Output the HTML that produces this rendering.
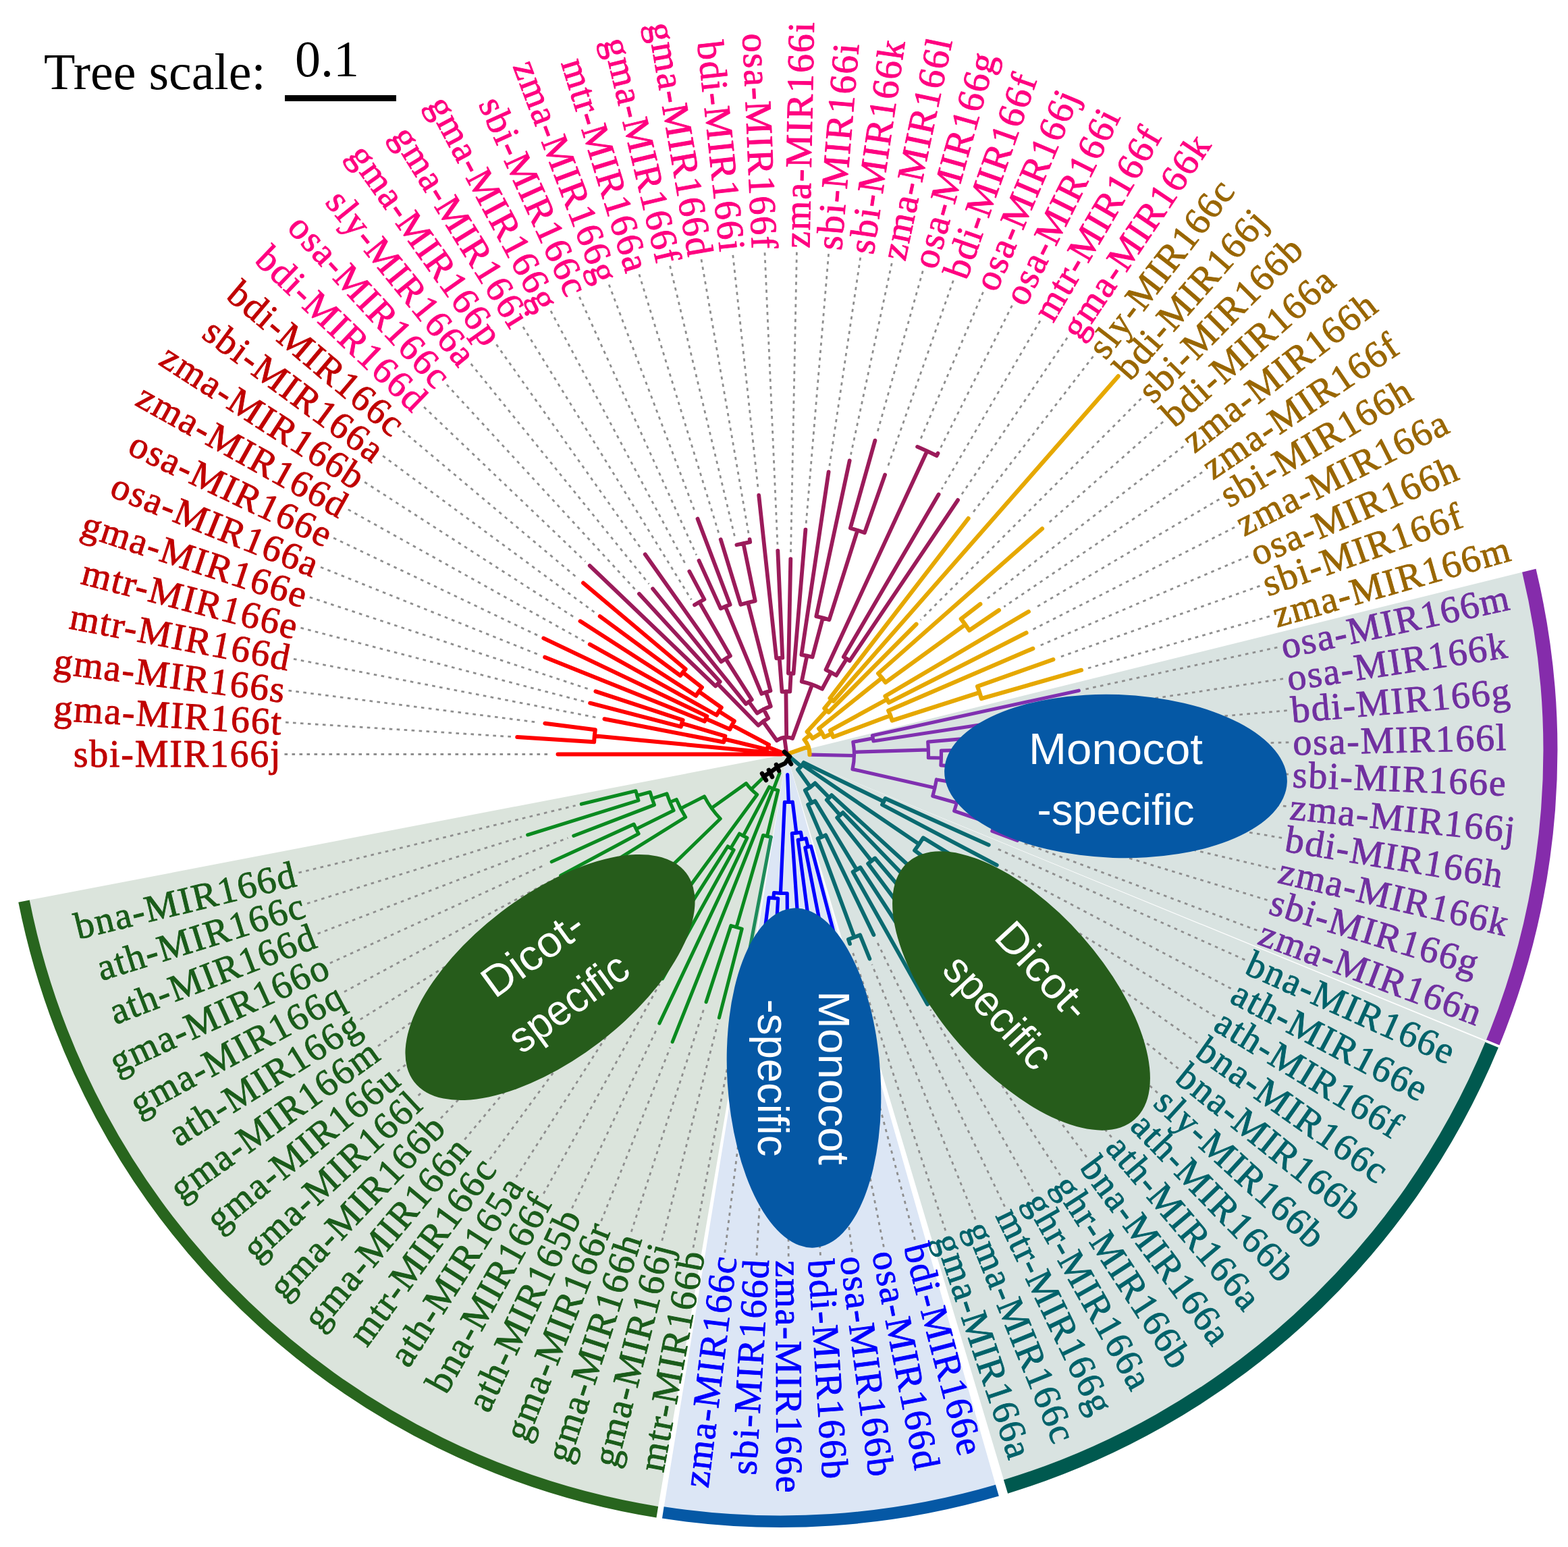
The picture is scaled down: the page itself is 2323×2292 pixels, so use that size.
<!DOCTYPE html>
<html lang="en"><head><meta charset="utf-8"><title>MIR166 phylogenetic tree</title>
<style>html,body{margin:0;padding:0;background:#fff}svg{display:block}.lb{font-family:"Liberation Serif", serif;font-size:56px;letter-spacing:1.75px}.el{font-family:"Liberation Sans",sans-serif;font-size:64px;fill:#fff;text-anchor:middle}.sc{font-family:"Liberation Serif",serif;font-size:76px;fill:#000}</style></head><body>
<svg xmlns="http://www.w3.org/2000/svg" width="2323" height="2292" viewBox="0 0 2323 2292">
<rect width="2323" height="2292" fill="#fff"/>
<g id="sectors">
<path d="M1165.5 1117.5L2256.1 847.6A1131 1131 0 0 1 2202.6 1541.8Z" fill="#d9e3e1"/>
<path d="M1165.5 1117.5L2201.8 1543.6A1131 1131 0 0 1 1487.3 2193.5Z" fill="#d9e3e1"/>
<path d="M1165.5 1117.5L975.1 2232.4A1135 1135 0 0 1 43.2 1333.6Z" fill="#dbe4dc"/>
<path d="M1165.5 1117.5L1475.4 2201.2A1135 1135 0 0 1 983.5 2233.8Z" fill="#dce6f5"/>
</g>
<g id="rings">
<path d="M2265.3 845.3A1140.5 1140.5 0 0 1 2211.7 1544.5" fill="none" stroke="#852cab" stroke-width="21"/>
<path d="M2210.2 1548.1A1140.5 1140.5 0 0 1 1490 2202.6" fill="none" stroke="#00594f" stroke-width="21"/>
<path d="M1477.4 2208.2A1142.2 1142.2 0 0 1 982.3 2240.9" fill="none" stroke="#0558a5" stroke-width="17.5"/>
<path d="M973.8 2240.2A1142.9 1142.9 0 0 1 35.5 1335.1" fill="none" stroke="#28651e" stroke-width="16.8"/>
</g>
<g id="leaders" fill="none" stroke="#8e8e8e" stroke-width="2.8" stroke-dasharray="4.6 6.4">
<path d="M421.5 1117.5L817.5 1117.5"/><path d="M423 1070.2L757.3 1091.5"/><path d="M427.5 1023.1L798.5 1070.5"/><path d="M435 976.3L886.7 1063.6"/><path d="M445.5 930.2L865.5 1039.4"/><path d="M458.8 884.8L873.9 1021.5"/><path d="M475.1 840.3L798.9 970.3"/><path d="M494.1 797L797.3 941.7"/><path d="M515.8 754.9L866 950.3"/><path d="M540.2 714.3L852 915.4"/><path d="M567.1 675.4L881.6 907.7"/><path d="M596.4 638.2L857.3 857.9"/><path d="M628.1 603L867.2 831.9"/><path d="M661.9 569.9L940.8 873.1"/><path d="M697.7 539L961.5 865.2"/><path d="M735.4 510.4L950.5 813.9"/><path d="M774.9 484.3L1024.3 888.5"/><path d="M816 460.7L1017 838.5"/><path d="M858.4 439.8L1031.8 822.4"/><path d="M902.2 421.7L1030.3 760.2"/><path d="M946.9 406.3L1065 790.6"/><path d="M992.6 393.9L1089.3 798.5"/><path d="M1039 384.3L1109 790.3"/><path d="M1085.8 377.8L1123.2 724.8"/><path d="M1133 374.2L1151.9 806.8"/><path d="M1180.4 373.6L1171.5 819.1"/><path d="M1227.6 376.1L1194.2 775.7"/><path d="M1274.7 381.6L1228.9 690.2"/><path d="M1321.2 390L1260.5 673.6"/><path d="M1367.2 401.4L1298.9 643.9"/><path d="M1412.3 415.6L1314.1 694.9"/><path d="M1456.5 432.8L1362.6 653.6"/><path d="M1499.4 452.6L1393.5 663.5"/><path d="M1541 475.2L1395.1 724.7"/><path d="M1581.1 500.4L1424.1 733.5"/><path d="M1619.5 528.1L1440.1 761"/><path d="M1690.6 590.5L1363.8 918.4"/><path d="M1723.1 624.9L1550.7 777.2"/><path d="M1753.3 661.4L1459.4 889.4"/><path d="M1781.1 699.7L1487.4 899"/><path d="M1806.4 739.7L1531.6 901.7"/><path d="M1829.1 781.2L1528.5 933.5"/><path d="M1849.2 824.1L1538.6 957.4"/><path d="M1866.5 868.1L1568.7 974"/><path d="M1880.9 913.2L1610.7 990.4"/><path d="M1892.4 959.1L1607.1 1021.3"/><path d="M1901 1005.7L1550.1 1059"/><path d="M1906.7 1052.7L1572.9 1081.9"/><path d="M1909.3 1099.9L1574.4 1107.8"/><path d="M1908.9 1147.2L1574.2 1133.9"/><path d="M1905.5 1194.5L1572.3 1159.8"/><path d="M1899.1 1241.4L1568.8 1185.6"/><path d="M1889.8 1287.8L1563.6 1211.1"/><path d="M1877.5 1333.5L1537.7 1230.4"/><path d="M1862.3 1378.3L1515.8 1248.6"/><path d="M1844.3 1422.1L1473 1255.5"/><path d="M1823.6 1464.6L1484.8 1285.9"/><path d="M1800.1 1505.8L1463.2 1299.6"/><path d="M1774.2 1545.3L1451 1318.2"/><path d="M1745.7 1583.2L1437.7 1335.9"/><path d="M1714.9 1619.1L1423.2 1352.8"/><path d="M1681.9 1653.1L1407.8 1368.7"/><path d="M1646.8 1684.8L1391.3 1383.6"/><path d="M1609.8 1714.3L1373.9 1397.4"/><path d="M1570.9 1741.3L1388.4 1460.4"/><path d="M1530.4 1765.8L1378.4 1495.7"/><path d="M1488.5 1787.7L1298.3 1393.2"/><path d="M1445.2 1806.9L1291.8 1428.9"/><path d="M1400.8 1823.3L1262 1406.8"/><path d="M1355.4 1836.8L1244.4 1416.3"/><path d="M1309.3 1847.5L1225.2 1420.7"/><path d="M1262.6 1855.1L1205.8 1423.9"/><path d="M1215.5 1859.8L1186.3 1425.8"/><path d="M1168.2 1861.5L1166.6 1426.5"/><path d="M1120.9 1860.2L1147 1425.9"/><path d="M1073.8 1855.8L1127.4 1424.1"/><path d="M1027 1848.5L1108 1421.1"/><path d="M980.8 1838.2L1063.2 1516.6"/><path d="M935.3 1825L1043.3 1493.1"/><path d="M890.8 1808.9L992.9 1552"/><path d="M847.4 1790.1L973.1 1524.3"/><path d="M805.3 1768.5L977.2 1457.9"/><path d="M764.6 1744.3L955.9 1445.2"/><path d="M725.6 1717.5L935.5 1431.2"/><path d="M688.3 1688.3L916 1415.9"/><path d="M653 1656.8L897.5 1399.5"/><path d="M619.7 1623.1L880.1 1381.9"/><path d="M588.7 1587.4L863.9 1363.2"/><path d="M560 1549.8L848.9 1343.5"/><path d="M533.7 1510.4L763 1367.8"/><path d="M510 1469.4L822.8 1301.5"/><path d="M488.9 1427L809 1280.6"/><path d="M470.6 1383.4L841.4 1241.5"/><path d="M455.1 1338.6L773.1 1239.7"/><path d="M442.5 1293L852.6 1193.5"/>
</g>
<g id="tree" fill="none" stroke-linecap="round" stroke-linejoin="round">
<path stroke="#0a8a1f" stroke-width="5.1" d="M1154.9 1145.6L1146 1168.9M1152.7 1171A55 55 0 0 1 1139.6 1166M1152.7 1171L1136.4 1239.1M1142.2 1240.3A125 125 0 0 1 1130.6 1237.5M1130.6 1237.5L1091 1373.9M1099.2 1376.1A267 267 0 0 1 1082.9 1371.4M1099.2 1376.1L1065.4 1507.9M1082.9 1371.4L1046.1 1484.6M1145.2 1168.6L996.2 1543.6M1139.6 1166L1101.1 1238.4M1106.9 1241.3A137 137 0 0 1 1095.4 1235.2M1106.9 1241.3L976.9 1516.2M1095.4 1235.2L1082.6 1256.7M1087.1 1259.2A162 162 0 0 1 1078.2 1254M1087.1 1259.2L981.5 1450M1078.2 1254L960.7 1437.6M1130 1152.7L1112.9 1169.5M1121.7 1177.2A74 74 0 0 1 1105.4 1160.6M1121.7 1177.2L940.8 1423.9M1105.4 1160.6L1054.2 1197.3M1067.2 1213A137 137 0 0 1 1043.5 1179.9M1067.2 1213L986.2 1291.7M999.1 1304.1A250 250 0 0 1 974.2 1278.5M999.1 1304.1L965.9 1341.4M973.1 1347.7A300 300 0 0 1 958.8 1335M973.1 1347.7L921.8 1409M958.8 1335L903.7 1393M974.2 1278.5L951.3 1297.8M960.1 1307.8A280 280 0 0 1 942.9 1287.3M960.1 1307.8L886.7 1375.7M942.9 1287.3L927 1299.5M932.9 1307A300 300 0 0 1 921.3 1291.8M932.9 1307L870.9 1357.5M921.3 1291.8L856.2 1338.3M1043.5 1179.9L1008.4 1197.9M1015.6 1210.7A176.5 176.5 0 0 1 1002.2 1184.5M1015.6 1210.7L842.8 1318.2M1002.2 1184.5L992.5 1188.5M998 1200.7A187 187 0 0 1 987.9 1175.9M998 1200.7L942.5 1228.2M946.1 1235.3A249 249 0 0 1 939.1 1221.1M946.1 1235.3L830.7 1297.2M939.1 1221.1L817.2 1276.8M987.9 1175.9L966 1183.1M969.4 1192.5A210 210 0 0 1 963.1 1173.5M969.4 1192.5L849.8 1238.3M963.1 1173.5L943.8 1178.8M945.9 1185.9A230 230 0 0 1 942 1171.8M945.9 1185.9L781.7 1237M942 1171.8L861.3 1191.3"/>
<path stroke="#1e8c5a" stroke-width="5.0" d="M1142.2 1240.3L1109.6 1412.3"/>
<path stroke="#0000ff" stroke-width="5.2" d="M1166.7 1147.5L1168.3 1188.4M1174.2 1188A71 71 0 0 1 1162.4 1188.4M1174.2 1188L1179.9 1234.1M1186.4 1233.1A117.5 117.5 0 0 1 1173.4 1234.7M1186.4 1233.1L1188.2 1243.5M1194.2 1242.2A128 128 0 0 1 1182.2 1244.4M1194.2 1242.2L1197.1 1254.9M1201.5 1253.8A141 141 0 0 1 1192.8 1255.8M1201.5 1253.8L1242.1 1407.6M1192.8 1255.8L1223.5 1411.8M1182.2 1244.4L1204.7 1414.9M1173.4 1234.7L1185.7 1416.8M1162.4 1188.4L1156.4 1323.3M1166.2 1323.5A206 206 0 0 1 1146.6 1322.6M1166.2 1323.5L1166.6 1417.5M1146.6 1322.6L1145.9 1330.6M1152.7 1331.1A214 214 0 0 1 1139.1 1329.9M1152.7 1331.1L1147.5 1417M1139.1 1329.9L1128.5 1415.2"/>
<path stroke="#0a6a70" stroke-width="5.8" d="M1165.5 1117.5L1186.9 1135.5M1190.7 1129.8A28 28 0 0 1 1181.9 1140.2M1190.7 1129.8L1309.3 1187.6M1311.5 1183A160 160 0 0 1 1307 1192.2M1311.5 1183L1464.8 1251.8M1307 1192.2L1476.8 1281.7M1188.7 1133.2L1361.5 1250.7M1367.7 1241.2A237 237 0 0 1 1355 1259.9M1367.7 1241.2L1455.5 1294.9M1355 1259.9L1389.3 1285.7M1394.6 1278.5A280 280 0 0 1 1383.9 1292.8M1394.6 1278.5L1443.7 1313M1383.9 1292.8L1430.7 1330.3M1181.9 1140.2L1200.6 1166.2M1207.5 1160.4A60 60 0 0 1 1192.8 1170.9M1207.5 1160.4L1228.5 1181.8M1232 1178.2A90 90 0 0 1 1224.8 1185.2M1232 1178.2L1416.6 1346.7M1224.8 1185.2L1244.6 1207.8M1248.8 1203.9A120 120 0 0 1 1240.2 1211.4M1248.8 1203.9L1401.5 1362.2M1240.2 1211.4L1291.2 1275.6M1296.2 1271.5A202 202 0 0 1 1286.1 1279.5M1296.2 1271.5L1385.5 1376.8M1286.1 1279.5L1368.5 1390.2M1192.8 1170.9L1202.4 1189.6M1207.5 1186.8A81 81 0 0 1 1197.1 1192.1M1207.5 1186.8L1269.1 1288.6M1274.5 1285.2A200 200 0 0 1 1263.6 1291.8M1274.5 1285.2L1383.5 1452.9M1263.6 1291.8L1374 1487.9M1197.1 1192.1L1217.5 1239.9M1223.2 1237.3A133 133 0 0 1 1211.6 1242.3M1223.2 1237.3L1294.4 1385.1M1211.6 1242.3L1265.6 1388.6M1274.2 1385.3A289 289 0 0 1 1256.9 1391.7M1274.2 1385.3L1288.4 1420.5M1256.9 1391.7L1259.1 1398.3"/>
<path stroke="#8030b0" stroke-width="5.2" d="M1199.5 1118.2L1265.5 1119.5M1263.8 1099.3A100 100 0 0 1 1263 1139.6M1263.8 1099.3L1293.3 1093.9M1292.5 1089.8A130 130 0 0 1 1294 1098M1292.5 1089.8L1598.3 1023.2M1294 1098L1541.2 1060.4M1265.5 1114.3L1375.4 1110.9M1374.7 1099.2A210 210 0 0 1 1375.4 1122.6M1374.7 1099.2L1564 1082.6M1375.4 1122.6L1394.4 1123M1394.4 1112.1A229 229 0 0 1 1393.9 1133.9M1394.4 1112.1L1565.4 1108M1393.9 1133.9L1414.9 1135.4M1415.3 1127.5A250 250 0 0 1 1414.2 1143.4M1415.3 1127.5L1565.2 1133.5M1414.2 1143.4L1563.4 1158.9M1263 1139.6L1384.9 1167.2M1387.4 1155A225 225 0 0 1 1381.8 1179.4M1387.4 1155L1559.9 1184.1M1381.8 1179.4L1417.4 1189.6M1420.5 1177.5A262 262 0 0 1 1413.7 1201.5M1420.5 1177.5L1554.9 1209M1413.7 1201.5L1473.3 1221.7M1476.5 1211.8A325 325 0 0 1 1469.9 1231.4M1476.5 1211.8L1529.1 1227.8M1469.9 1231.4L1507.3 1245.4"/>
<path stroke="#e6a800" stroke-width="6.2" d="M1191.6 1095.8L1200.1 1088.7M1195.7 1084.1A45 45 0 0 1 1203.8 1093.9M1195.7 1084.1L1224.6 1052.3M1221.4 1049.5A88 88 0 0 1 1227.6 1055.2M1221.4 1049.5L1232.2 1036.4M1229.6 1034.3A105 105 0 0 1 1234.7 1038.6M1229.6 1034.3L1434.6 768.1M1234.7 1038.6L1656.7 557.4M1227.6 1055.2L1357.5 924.8M1203.8 1093.9L1217.4 1085.5M1213.1 1079.3A61 61 0 0 1 1221 1092.1M1213.1 1079.3L1306.7 1004.3M1301.1 997.7A181 181 0 0 1 1312 1011.1M1301.1 997.7L1544 783.2M1312 1011.1L1430.1 925.3M1423.8 917A327 327 0 0 1 1436.1 933.9M1423.8 917L1452.3 895M1436.1 933.9L1479.9 904.1M1221 1092.1L1232.3 1086.9M1230 1082.2A73.5 73.5 0 0 1 1234.3 1091.8M1230 1082.2L1314.2 1036.1M1311.5 1031.4A169.5 169.5 0 0 1 1316.7 1040.9M1311.5 1031.4L1523.9 906.2M1316.7 1040.9L1520.5 937.6M1234.3 1091.8L1319.1 1060.1M1316.2 1052.8A164 164 0 0 1 1321.7 1067.5M1316.2 1052.8L1530.3 960.9M1321.7 1067.5L1451.2 1026M1448.1 1016.9A300 300 0 0 1 1454 1035.1M1448.1 1016.9L1560.3 977.1M1454 1035.1L1602 992.8M1191.6 1095.8A34 34 0 0 1 1199.5 1118.2M1165.5 1117.5L1197.6 1106.3"/>
<path stroke="#9b1b5a" stroke-width="5.8" d="M1165.5 1117.5L1162.1 1092.7M1150.9 1097.2A25 25 0 0 1 1174.1 1094M1150.9 1097.2L1130.4 1068.8M1123.5 1074.7A60 60 0 0 1 1138.2 1064.1M1123.5 1074.7L1063.3 1013.2M1060 1016.5A146 146 0 0 1 1066.7 1010M1060 1016.5L873.7 838.1M1066.7 1010L946.9 879.8M1138.2 1064.1L1131.3 1050.7M1121.7 1056.6A75 75 0 0 1 1141.8 1046.4M1121.7 1056.6L1109.4 1039.6M1105.1 1042.9A96 96 0 0 1 1113.8 1036.6M1105.1 1042.9L967.1 872.2M1113.8 1036.6L1075 975.9M1068.4 980.4A168 168 0 0 1 1081.9 971.8M1068.4 980.4L955.7 821.3M1081.9 971.8L1036.1 892M1029 896.2A260 260 0 0 1 1043.4 888M1043.4 888L1021.3 846.5M1141.8 1046.4L1134.8 1025.5M1128.3 1027.9A97 97 0 0 1 1141.5 1023.5M1128.3 1027.9L1074.6 898.6M1067.7 901.6A237 237 0 0 1 1081.6 895.8M1067.7 901.6L1035.5 830.6M1081.6 895.8L1033.5 768.6M1141.5 1023.5L1108 892.7M1097.3 895.7A232 232 0 0 1 1118.8 890.3M1097.3 895.7L1067.7 799.2M1118.8 890.3L1101.3 805M1091.4 807.2A319 319 0 0 1 1111.2 803.1M1111.2 803.1L1110.6 799.2M1165.2 1092.5L1164.4 1024.5M1158.5 1024.8A93 93 0 0 1 1170.3 1024.6M1158.5 1024.8L1154.7 974.9M1150.2 975.3A143 143 0 0 1 1159.3 974.6M1150.2 975.3L1124.2 733.7M1159.3 974.6L1152.3 815.8M1170.3 1024.6L1171.7 997.7M1167.9 997.5A120 120 0 0 1 1175.5 997.9M1167.9 997.5L1171.3 828.1M1175.5 997.9L1193.4 784.7M1174.1 1094L1203.2 1014.2M1187.7 1009.8A110 110 0 0 1 1218 1020.8M1187.7 1009.8L1195.5 971.6M1187.4 970.1A149 149 0 0 1 1203.6 973.5M1187.4 970.1L1227.6 699.1M1203.6 973.5L1219 915.5M1209.3 913.1A209 209 0 0 1 1228.5 918.2M1209.3 913.1L1258.7 682.4M1228.5 918.2L1270.4 785.7M1259.8 782.5A348 348 0 0 1 1280.9 789.2M1259.8 782.5L1296.4 652.6M1280.9 789.2L1311.1 703.4M1218 1020.8L1231.3 996.2M1223.5 992.3A138 138 0 0 1 1238.9 1000.6M1223.5 992.3L1373.5 668.3M1359.1 661.9A495 495 0 0 1 1387.7 675.2M1387.7 675.2L1389.5 671.6M1238.9 1000.6L1254.3 976.1M1249.8 973.3A167 167 0 0 1 1258.8 979M1249.8 973.3L1390.6 732.5M1258.8 979L1419.1 740.9"/>
<path stroke="#ff0000" stroke-width="6.0" d="M1165.5 1117.5L1157.6 1116.1M1157.5 1117.5A8 8 0 0 1 1158 1114.7M1157.5 1117.5L826.5 1117.5M1157.5 1116.7L880.8 1090.2M880.1 1099.3A286 286 0 0 1 881.8 1081.2M880.1 1099.3L766.3 1092.1M881.8 1081.2L807.4 1071.7M1158 1114.7L1137.5 1106.8M1136.4 1110.4A30 30 0 0 1 1139 1103.4M1136.4 1110.4L1073.2 1095M1072.2 1099.5A95 95 0 0 1 1074.4 1090.7M1072.2 1099.5L895.5 1065.3M1074.4 1090.7L1010.1 1071.7M1008.7 1076.7A162 162 0 0 1 1011.6 1066.8M1008.7 1076.7L874.2 1041.7M1011.6 1066.8L882.5 1024.3M1139 1103.4L1084.3 1074.3M1081.3 1080.5A92 92 0 0 1 1087.8 1068.3M1081.3 1080.5L1045.5 1064.8M1043.9 1068.7A131 131 0 0 1 1047.3 1061.1M1043.9 1068.7L807.3 973.7M1047.3 1061.1L805.4 945.6M1087.8 1068.3L1065 1053.8M1061.6 1059.5A119 119 0 0 1 1068.7 1048.3M1061.6 1059.5L873.8 954.7M1068.7 1048.3L1035.3 1024.5M1031 1030.8A160 160 0 0 1 1039.9 1018.4M1031 1030.8L859.6 920.3M1039.9 1018.4L1011.6 996.1M1007.9 1001A196 196 0 0 1 1015.6 991.2M1007.9 1001L888.8 913.1M1015.6 991.2L864.1 863.7"/>
<path stroke="#000" stroke-width="6.5" d="M1162 1114L1170 1121L1163 1131L1152 1136L1143 1143L1132 1150M1168 1126L1172 1132M1150 1133L1154 1142M1139 1141L1144 1151M1129 1146L1135 1156"/>
</g>
<g id="labels" class="lb" stroke-width="0.9" stroke-linejoin="round">
<text transform="translate(415.5 1117.5) rotate(0.00)" x="1.8" y="18.8" text-anchor="end" fill="#c00000" stroke="#c00000">sbi-MIR166j</text>
<text transform="translate(417 1069.8) rotate(3.65)" x="1.8" y="18.8" text-anchor="end" fill="#c00000" stroke="#c00000">gma-MIR166t</text>
<text transform="translate(421.6 1022.3) rotate(7.29)" x="1.8" y="18.8" text-anchor="end" fill="#c00000" stroke="#c00000">gma-MIR166s</text>
<text transform="translate(429.1 975.2) rotate(10.94)" x="1.8" y="18.8" text-anchor="end" fill="#c00000" stroke="#c00000">mtr-MIR166d</text>
<text transform="translate(439.7 928.7) rotate(14.58)" x="1.8" y="18.8" text-anchor="end" fill="#c00000" stroke="#c00000">mtr-MIR166e</text>
<text transform="translate(453.1 882.9) rotate(18.23)" x="1.8" y="18.8" text-anchor="end" fill="#c00000" stroke="#c00000">gma-MIR166e</text>
<text transform="translate(469.5 838.1) rotate(21.88)" x="1.8" y="18.8" text-anchor="end" fill="#c00000" stroke="#c00000">osa-MIR166a</text>
<text transform="translate(488.7 794.4) rotate(25.52)" x="1.8" y="18.8" text-anchor="end" fill="#c00000" stroke="#c00000">osa-MIR166e</text>
<text transform="translate(510.6 752) rotate(29.17)" x="1.8" y="18.8" text-anchor="end" fill="#c00000" stroke="#c00000">zma-MIR166d</text>
<text transform="translate(535.2 711.1) rotate(32.81)" x="1.8" y="18.8" text-anchor="end" fill="#c00000" stroke="#c00000">zma-MIR166b</text>
<text transform="translate(562.3 671.8) rotate(36.46)" x="1.8" y="18.8" text-anchor="end" fill="#c00000" stroke="#c00000">sbi-MIR166a</text>
<text transform="translate(591.8 634.4) rotate(40.10)" x="1.8" y="18.8" text-anchor="end" fill="#c00000" stroke="#c00000">bdi-MIR166c</text>
<text transform="translate(623.7 598.9) rotate(43.75)" x="1.8" y="18.8" text-anchor="end" fill="#ff0080" stroke="#ff0080">bdi-MIR166d</text>
<text transform="translate(657.8 565.5) rotate(47.40)" x="1.8" y="18.8" text-anchor="end" fill="#ff0080" stroke="#ff0080">osa-MIR166c</text>
<text transform="translate(693.9 534.3) rotate(51.04)" x="1.8" y="18.8" text-anchor="end" fill="#ff0080" stroke="#ff0080">sly-MIR166a</text>
<text transform="translate(732 505.5) rotate(54.69)" x="1.8" y="18.8" text-anchor="end" fill="#ff0080" stroke="#ff0080">gma-MIR166p</text>
<text transform="translate(771.8 479.2) rotate(58.33)" x="1.8" y="18.8" text-anchor="end" fill="#ff0080" stroke="#ff0080">gma-MIR166i</text>
<text transform="translate(813.2 455.4) rotate(61.98)" x="1.8" y="18.8" text-anchor="end" fill="#ff0080" stroke="#ff0080">gma-MIR166g</text>
<text transform="translate(856 434.4) rotate(65.62)" x="1.8" y="18.8" text-anchor="end" fill="#ff0080" stroke="#ff0080">sbi-MIR166c</text>
<text transform="translate(900 416.1) rotate(69.27)" x="1.8" y="18.8" text-anchor="end" fill="#ff0080" stroke="#ff0080">zma-MIR166g</text>
<text transform="translate(945.2 400.6) rotate(72.92)" x="1.8" y="18.8" text-anchor="end" fill="#ff0080" stroke="#ff0080">mtr-MIR166a</text>
<text transform="translate(991.2 388) rotate(76.56)" x="1.8" y="18.8" text-anchor="end" fill="#ff0080" stroke="#ff0080">gma-MIR166f</text>
<text transform="translate(1038 378.4) rotate(80.21)" x="1.8" y="18.8" text-anchor="end" fill="#ff0080" stroke="#ff0080">gma-MIR166d</text>
<text transform="translate(1085.2 371.8) rotate(83.85)" x="1.8" y="18.8" text-anchor="end" fill="#ff0080" stroke="#ff0080">bdi-MIR166i</text>
<text transform="translate(1132.8 368.2) rotate(87.50)" x="1.8" y="18.8" text-anchor="end" fill="#ff0080" stroke="#ff0080">osa-MIR166f</text>
<text transform="translate(1180.5 367.6) rotate(271.15)" x="0" y="18.8" fill="#ff0080" stroke="#ff0080">zma-MIR166i</text>
<text transform="translate(1228.1 370.1) rotate(274.79)" x="0" y="18.8" fill="#ff0080" stroke="#ff0080">sbi-MIR166i</text>
<text transform="translate(1275.5 375.6) rotate(278.44)" x="0" y="18.8" fill="#ff0080" stroke="#ff0080">sbi-MIR166k</text>
<text transform="translate(1322.5 384.1) rotate(282.08)" x="0" y="18.8" fill="#ff0080" stroke="#ff0080">zma-MIR166l</text>
<text transform="translate(1368.8 395.6) rotate(285.73)" x="0" y="18.8" fill="#ff0080" stroke="#ff0080">osa-MIR166g</text>
<text transform="translate(1414.3 410) rotate(289.38)" x="0" y="18.8" fill="#ff0080" stroke="#ff0080">bdi-MIR166f</text>
<text transform="translate(1458.8 427.2) rotate(293.02)" x="0" y="18.8" fill="#ff0080" stroke="#ff0080">osa-MIR166j</text>
<text transform="translate(1502.1 447.3) rotate(296.67)" x="0" y="18.8" fill="#ff0080" stroke="#ff0080">osa-MIR166i</text>
<text transform="translate(1544 470) rotate(300.31)" x="0" y="18.8" fill="#ff0080" stroke="#ff0080">mtr-MIR166f</text>
<text transform="translate(1584.4 495.4) rotate(303.96)" x="0" y="18.8" fill="#ff0080" stroke="#ff0080">gma-MIR166k</text>
<text transform="translate(1623.2 523.3) rotate(307.60)" x="0" y="18.8" fill="#996600" stroke="#996600">sly-MIR166c</text>
<text transform="translate(1660 553.6) rotate(311.25)" x="0" y="18.8" fill="#996600" stroke="#996600">bdi-MIR166j</text>
<text transform="translate(1694.9 586.2) rotate(314.90)" x="0" y="18.8" fill="#996600" stroke="#996600">sbi-MIR166b</text>
<text transform="translate(1727.6 620.9) rotate(318.54)" x="0" y="18.8" fill="#996600" stroke="#996600">bdi-MIR166a</text>
<text transform="translate(1758 657.7) rotate(322.19)" x="0" y="18.8" fill="#996600" stroke="#996600">zma-MIR166h</text>
<text transform="translate(1786.1 696.3) rotate(325.83)" x="0" y="18.8" fill="#996600" stroke="#996600">zma-MIR166f</text>
<text transform="translate(1811.6 736.6) rotate(329.48)" x="0" y="18.8" fill="#996600" stroke="#996600">sbi-MIR166h</text>
<text transform="translate(1834.5 778.5) rotate(333.12)" x="0" y="18.8" fill="#996600" stroke="#996600">zma-MIR166a</text>
<text transform="translate(1854.7 821.7) rotate(336.77)" x="0" y="18.8" fill="#996600" stroke="#996600">osa-MIR166h</text>
<text transform="translate(1872.1 866.1) rotate(340.42)" x="0" y="18.8" fill="#996600" stroke="#996600">sbi-MIR166f</text>
<text transform="translate(1886.7 911.6) rotate(344.06)" x="0" y="18.8" fill="#996600" stroke="#996600">zma-MIR166m</text>
<text transform="translate(1898.3 957.8) rotate(347.71)" x="0" y="18.8" fill="#7030a0" stroke="#7030a0">osa-MIR166m</text>
<text transform="translate(1907 1004.8) rotate(351.35)" x="0" y="18.8" fill="#7030a0" stroke="#7030a0">osa-MIR166k</text>
<text transform="translate(1912.6 1052.1) rotate(355.00)" x="0" y="18.8" fill="#7030a0" stroke="#7030a0">bdi-MIR166g</text>
<text transform="translate(1915.3 1099.8) rotate(358.65)" x="0" y="18.8" fill="#7030a0" stroke="#7030a0">osa-MIR166l</text>
<text transform="translate(1914.9 1147.5) rotate(2.29)" x="0" y="18.8" fill="#7030a0" stroke="#7030a0">sbi-MIR166e</text>
<text transform="translate(1911.5 1195.1) rotate(5.94)" x="0" y="18.8" fill="#7030a0" stroke="#7030a0">zma-MIR166j</text>
<text transform="translate(1905 1242.4) rotate(9.58)" x="0" y="18.8" fill="#7030a0" stroke="#7030a0">bdi-MIR166h</text>
<text transform="translate(1895.6 1289.1) rotate(13.23)" x="0" y="18.8" fill="#7030a0" stroke="#7030a0">zma-MIR166k</text>
<text transform="translate(1883.2 1335.2) rotate(16.88)" x="0" y="18.8" fill="#7030a0" stroke="#7030a0">sbi-MIR166g</text>
<text transform="translate(1867.9 1380.4) rotate(20.52)" x="0" y="18.8" fill="#7030a0" stroke="#7030a0">zma-MIR166n</text>
<text transform="translate(1849.8 1424.5) rotate(24.17)" x="0" y="18.8" fill="#00626a" stroke="#00626a">bna-MIR166e</text>
<text transform="translate(1828.9 1467.4) rotate(27.81)" x="0" y="18.8" fill="#00626a" stroke="#00626a">ath-MIR166e</text>
<text transform="translate(1805.3 1508.9) rotate(31.46)" x="0" y="18.8" fill="#00626a" stroke="#00626a">ath-MIR166f</text>
<text transform="translate(1779.1 1548.8) rotate(35.10)" x="0" y="18.8" fill="#00626a" stroke="#00626a">bna-MIR166c</text>
<text transform="translate(1750.4 1586.9) rotate(38.75)" x="0" y="18.8" fill="#00626a" stroke="#00626a">bna-MIR166b</text>
<text transform="translate(1719.4 1623.2) rotate(42.40)" x="0" y="18.8" fill="#00626a" stroke="#00626a">sly-MIR166b</text>
<text transform="translate(1686.1 1657.4) rotate(46.04)" x="0" y="18.8" fill="#00626a" stroke="#00626a">ath-MIR166b</text>
<text transform="translate(1650.7 1689.4) rotate(49.69)" x="0" y="18.8" fill="#00626a" stroke="#00626a">ath-MIR166a</text>
<text transform="translate(1613.4 1719.1) rotate(53.33)" x="0" y="18.8" fill="#00626a" stroke="#00626a">bna-MIR166a</text>
<text transform="translate(1574.2 1746.4) rotate(56.98)" x="0" y="18.8" fill="#00626a" stroke="#00626a">ghr-MIR166b</text>
<text transform="translate(1533.4 1771.1) rotate(60.62)" x="0" y="18.8" fill="#00626a" stroke="#00626a">ghr-MIR166a</text>
<text transform="translate(1491.1 1793.1) rotate(64.27)" x="0" y="18.8" fill="#00626a" stroke="#00626a">mtr-MIR166g</text>
<text transform="translate(1447.5 1812.5) rotate(67.92)" x="0" y="18.8" fill="#00626a" stroke="#00626a">gma-MIR166c</text>
<text transform="translate(1402.7 1829) rotate(71.56)" x="0" y="18.8" fill="#00626a" stroke="#00626a">gma-MIR166a</text>
<text transform="translate(1357 1842.6) rotate(75.21)" x="0" y="18.8" fill="#0000ff" stroke="#0000ff">bdi-MIR166e</text>
<text transform="translate(1310.5 1853.4) rotate(78.85)" x="0" y="18.8" fill="#0000ff" stroke="#0000ff">osa-MIR166d</text>
<text transform="translate(1263.4 1861.1) rotate(82.50)" x="0" y="18.8" fill="#0000ff" stroke="#0000ff">osa-MIR166b</text>
<text transform="translate(1215.9 1865.8) rotate(86.15)" x="0" y="18.8" fill="#0000ff" stroke="#0000ff">bdi-MIR166b</text>
<text transform="translate(1168.2 1867.5) rotate(89.79)" x="0" y="18.8" fill="#0000ff" stroke="#0000ff">zma-MIR166e</text>
<text transform="translate(1120.5 1866.2) rotate(-86.56)" x="1.8" y="18.8" text-anchor="end" fill="#0000ff" stroke="#0000ff">sbi-MIR166d</text>
<text transform="translate(1073 1861.8) rotate(-82.92)" x="1.8" y="18.8" text-anchor="end" fill="#0000ff" stroke="#0000ff">zma-MIR166c</text>
<text transform="translate(1025.9 1854.4) rotate(-79.27)" x="1.8" y="18.8" text-anchor="end" fill="#1a5c1a" stroke="#1a5c1a">mtr-MIR166b</text>
<text transform="translate(979.3 1844) rotate(-75.62)" x="1.8" y="18.8" text-anchor="end" fill="#1a5c1a" stroke="#1a5c1a">gma-MIR166j</text>
<text transform="translate(933.5 1830.7) rotate(-71.98)" x="1.8" y="18.8" text-anchor="end" fill="#1a5c1a" stroke="#1a5c1a">gma-MIR166h</text>
<text transform="translate(888.6 1814.5) rotate(-68.33)" x="1.8" y="18.8" text-anchor="end" fill="#1a5c1a" stroke="#1a5c1a">gma-MIR166r</text>
<text transform="translate(844.8 1795.5) rotate(-64.69)" x="1.8" y="18.8" text-anchor="end" fill="#1a5c1a" stroke="#1a5c1a">ath-MIR165b</text>
<text transform="translate(802.4 1773.7) rotate(-61.04)" x="1.8" y="18.8" text-anchor="end" fill="#1a5c1a" stroke="#1a5c1a">bna-MIR166f</text>
<text transform="translate(761.4 1749.3) rotate(-57.40)" x="1.8" y="18.8" text-anchor="end" fill="#1a5c1a" stroke="#1a5c1a">ath-MIR165a</text>
<text transform="translate(722 1722.3) rotate(-53.75)" x="1.8" y="18.8" text-anchor="end" fill="#1a5c1a" stroke="#1a5c1a">mtr-MIR166c</text>
<text transform="translate(684.5 1692.9) rotate(-50.10)" x="1.8" y="18.8" text-anchor="end" fill="#1a5c1a" stroke="#1a5c1a">gma-MIR166n</text>
<text transform="translate(648.8 1661.2) rotate(-46.46)" x="1.8" y="18.8" text-anchor="end" fill="#1a5c1a" stroke="#1a5c1a">gma-MIR166b</text>
<text transform="translate(615.3 1627.2) rotate(-42.81)" x="1.8" y="18.8" text-anchor="end" fill="#1a5c1a" stroke="#1a5c1a">gma-MIR166l</text>
<text transform="translate(584 1591.2) rotate(-39.17)" x="1.8" y="18.8" text-anchor="end" fill="#1a5c1a" stroke="#1a5c1a">gma-MIR166u</text>
<text transform="translate(555.1 1553.2) rotate(-35.52)" x="1.8" y="18.8" text-anchor="end" fill="#1a5c1a" stroke="#1a5c1a">gma-MIR166m</text>
<text transform="translate(528.6 1513.6) rotate(-31.88)" x="1.8" y="18.8" text-anchor="end" fill="#1a5c1a" stroke="#1a5c1a">ath-MIR166g</text>
<text transform="translate(504.7 1472.2) rotate(-28.23)" x="1.8" y="18.8" text-anchor="end" fill="#1a5c1a" stroke="#1a5c1a">gma-MIR166q</text>
<text transform="translate(483.5 1429.5) rotate(-24.58)" x="1.8" y="18.8" text-anchor="end" fill="#1a5c1a" stroke="#1a5c1a">gma-MIR166o</text>
<text transform="translate(465 1385.5) rotate(-20.94)" x="1.8" y="18.8" text-anchor="end" fill="#1a5c1a" stroke="#1a5c1a">ath-MIR166d</text>
<text transform="translate(449.4 1340.4) rotate(-17.29)" x="1.8" y="18.8" text-anchor="end" fill="#1a5c1a" stroke="#1a5c1a">ath-MIR166c</text>
<text transform="translate(436.7 1294.4) rotate(-13.65)" x="1.8" y="18.8" text-anchor="end" fill="#1a5c1a" stroke="#1a5c1a">bna-MIR166d</text>
</g>
<g id="bubbles">
<g transform="translate(1653 1150) rotate(2)"><ellipse rx="254" ry="121" fill="#0558a5"/></g><g class="el" transform="translate(1653 1150) rotate(0)"><text x="0" y="-18" textLength="258" lengthAdjust="spacingAndGlyphs">Monocot</text><text x="0" y="72" textLength="233" lengthAdjust="spacingAndGlyphs">-specific</text></g>
<g transform="translate(1191 1597) rotate(86.5)"><ellipse rx="252" ry="113.5" fill="#0558a5"/></g><g class="el" transform="translate(1191 1597) rotate(90)"><text x="0" y="-22" textLength="258" lengthAdjust="spacingAndGlyphs">Monocot</text><text x="0" y="68" textLength="233" lengthAdjust="spacingAndGlyphs">-specific</text></g>
<g transform="translate(815 1448) rotate(-37.5)"><ellipse rx="254" ry="121" fill="#265c1b"/></g><g class="el" transform="translate(815 1448) rotate(-36)"><text x="0" y="-22" textLength="171" lengthAdjust="spacingAndGlyphs">Dicot-</text><text x="0" y="68" textLength="203" lengthAdjust="spacingAndGlyphs">specific</text></g>
<g transform="translate(1513 1468) rotate(48.6)"><ellipse rx="254" ry="121" fill="#265c1b"/></g><g class="el" transform="translate(1513 1468) rotate(47.3)"><text x="0" y="-22" textLength="173" lengthAdjust="spacingAndGlyphs">Dicot-</text><text x="0" y="68" textLength="205" lengthAdjust="spacingAndGlyphs">specific</text></g>
</g>
<g id="scale"><text class="sc" x="65" y="132">Tree scale:</text><text class="sc" x="437" y="113">0.1</text><rect x="422" y="141" width="165" height="9" fill="#000"/></g>
</svg></body></html>
